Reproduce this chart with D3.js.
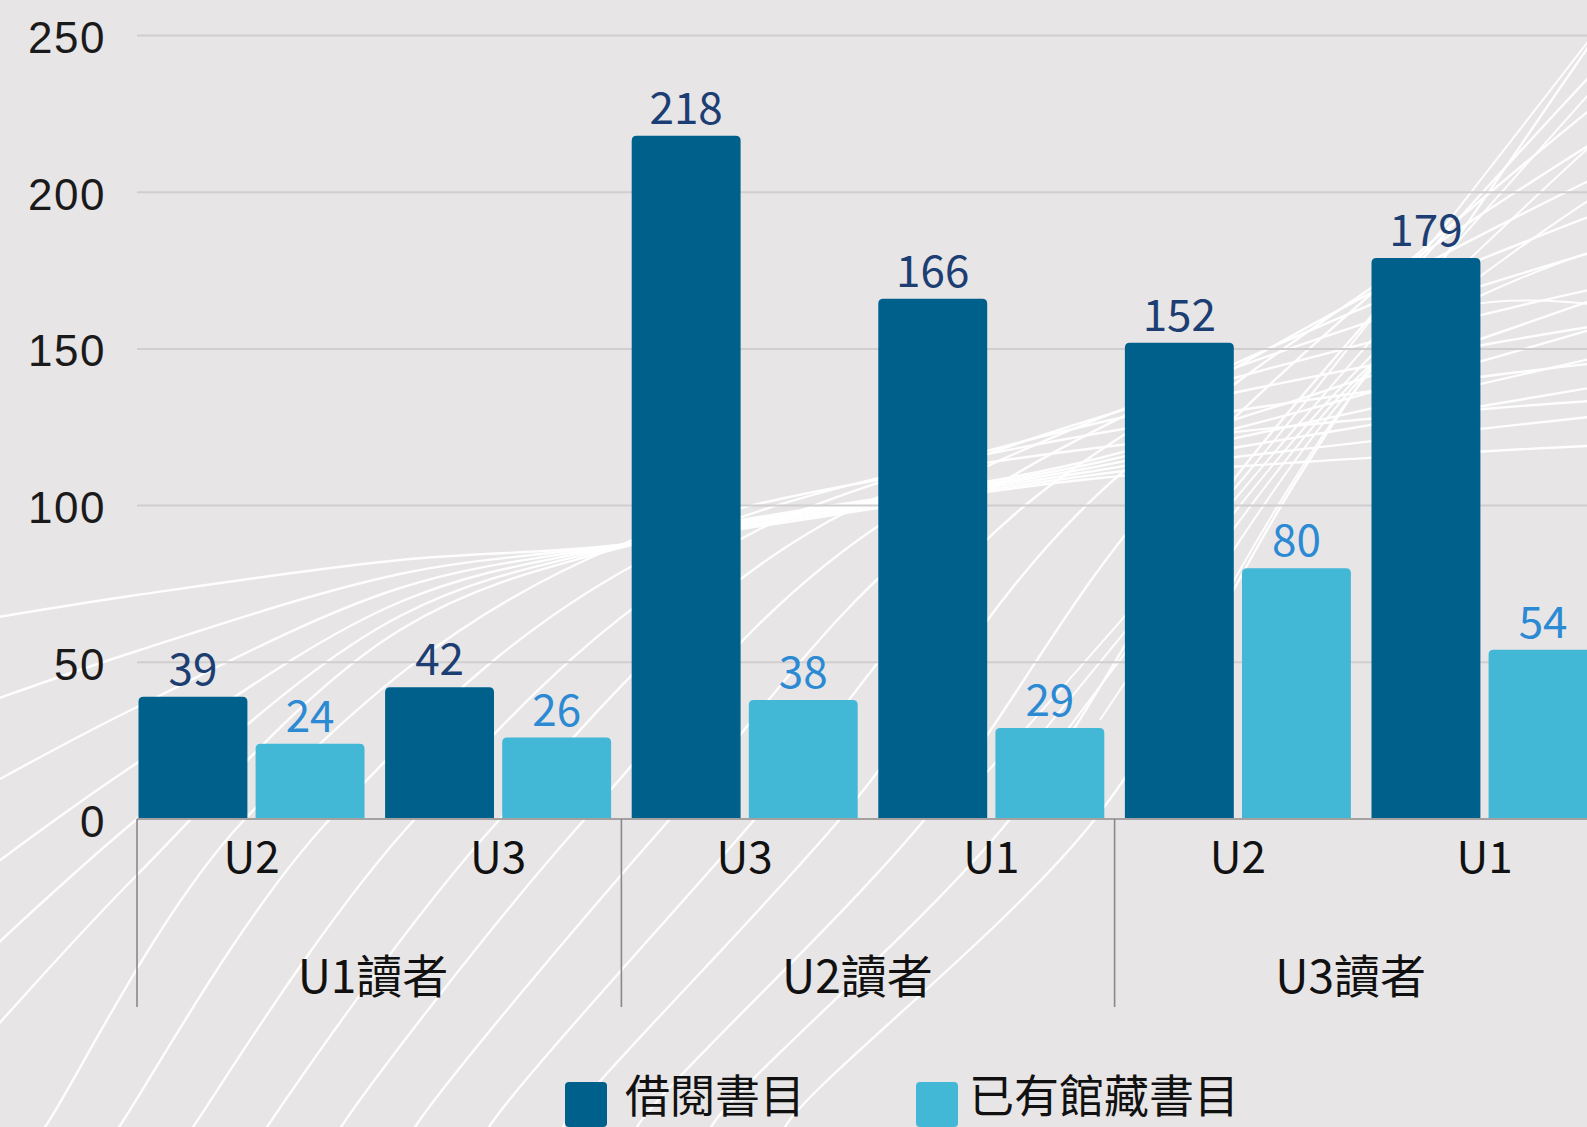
<!DOCTYPE html>
<html>
<head>
<meta charset="utf-8">
<script src="https://cdn.jsdelivr.net/npm/d3@7"></script>
<style>
  html, body { margin: 0; padding: 0; background: #e7e5e6; }
  svg { display: block; }
</style>
</head>
<body>
<div id="chart"></div>
<script>
// ---- data ----
const groups = ["U1讀者", "U2讀者", "U3讀者"];
const subcategories = ["U2", "U3", "U3", "U1", "U2", "U1"];
const groupOfSub = [0, 0, 1, 1, 2, 2];
const seriesNames = ["借閱書目", "已有館藏書目"];
const borrowed = [39, 42, 218, 166, 152, 179];
const held = [24, 26, 38, 29, 80, 54];
const yTicks = [0, 50, 100, 150, 200, 250];

const W = 1587, H = 1127;
const colors = ["#00608c", "#42b8d6"];
const labelColors = ["#1c3e72", "#2b8ad3"];

const svg = d3.select("#chart").append("svg")
  .attr("width", W).attr("height", H)
  .style("background", "#e7e5e6");

// ---- decorative background curves (string-art pattern) ----
const deco = svg.append("g").attr("fill", "none").attr("stroke", "#ffffff")
  .attr("stroke-opacity", 0.95).attr("stroke-width", 2.4);
const smooth = d3.line().curve(d3.curveCatmullRom.alpha(0.5));
// curves entering from the left edge, pinching near the 3rd bar
d3.range(6).forEach(k => {
  const pts = [
    [-20, 620 + k * 85],
    [137, 595 + k * 56],
    [400, 560 + k * 14],
    [620 + k * 6, 545 - k],
    [1100, 478 - k * 4],
    [W + 20, 445 - k * 30]
  ];
  deco.append("path").attr("d", smooth(pts));
});
// arcs rising from the bottom edge
d3.range(11).forEach(k => {
  const pts = [
    [30 + k * 75, H + 20],
    [45 + k * 74, H],
    [245 + k * 85, 819],
    [620 + k * 68, 545 - k * 7],
    [W + 20, 400 - k * 38]
  ];
  deco.append("path").attr("d", smooth(pts));
});
// steep crossing strings near the top-right
d3.range(6).forEach(k => {
  const pts = [
    [980 + k * 40, 780 - k * 20],
    [1250 + k * 35, 470 - k * 30],
    [W + 10, 30 + k * 55]
  ];
  deco.append("path").attr("d", smooth(pts)).attr("stroke-width", 2);
});

// ---- scales ----
const plotLeft = 137;
const y = d3.scaleLinear().domain([0, 250]).range([819, 35.5]);
const x = d3.scaleBand().domain(d3.range(subcategories.length))
  .range([138.5, 1597.5]).paddingInner(0.0835).paddingOuter(0);
const xs = d3.scaleBand().domain([0, 1]).range([0, x.bandwidth()]).paddingInner(0.07);

// ---- gridlines ----
svg.append("g").selectAll("line").data(yTicks.filter(t => t > 0)).join("line")
  .attr("x1", plotLeft).attr("x2", W)
  .attr("y1", d => y(d)).attr("y2", d => y(d))
  .attr("stroke", "#d0cecf").attr("stroke-width", 2);

// y labels
svg.append("g").selectAll("text").data(yTicks).join("text")
  .attr("x", 106).attr("y", d => y(d) + 2)
  .attr("text-anchor", "end").attr("dominant-baseline", "central")
  .attr("font-family", "'Liberation Sans', Arial, sans-serif").attr("font-size", 44)
  .attr("letter-spacing", 1.5)
  .attr("fill", "#1a1a1a").text(d => d);

// ---- bars ----
function barPath(x0, w, yTop, yBase, r) {
  r = Math.min(r, (yBase - yTop) / 2, w / 2);
  const p = d3.path();
  p.moveTo(x0, yBase);
  p.lineTo(x0, yTop + r);
  p.quadraticCurveTo(x0, yTop, x0 + r, yTop);
  p.lineTo(x0 + w - r, yTop);
  p.quadraticCurveTo(x0 + w, yTop, x0 + w, yTop + r);
  p.lineTo(x0 + w, yBase);
  p.closePath();
  return p.toString();
}
const seriesData = [borrowed, held];
seriesData.forEach((vals, si) => {
  const g = svg.append("g");
  g.selectAll("path").data(vals).join("path")
    .attr("d", (v, i) => barPath(x(i) + xs(si), xs.bandwidth(), y(v), y(0), 5))
    .attr("fill", colors[si]);
  g.selectAll("text").data(vals).join("text")
    .attr("x", (v, i) => x(i) + xs(si) + xs.bandwidth() / 2)
    .attr("y", v => y(v) - 12)
    .attr("text-anchor", "middle")
    .attr("font-family", "'Noto Sans CJK TC', 'Noto Sans', sans-serif")
    .attr("font-size", 44)
    .attr("fill", labelColors[si]).text(v => v);
});

// ---- x axis ----
svg.append("line").attr("x1", plotLeft).attr("x2", W)
  .attr("y1", y(0)).attr("y2", y(0))
  .attr("stroke", "#a3a1a2").attr("stroke-width", 2);

svg.append("g").selectAll("text").data(subcategories).join("text")
  .attr("x", (d, i) => x(i) + x.bandwidth() / 2)
  .attr("y", 873)
  .attr("text-anchor", "middle")
  .attr("font-family", "'Noto Sans CJK TC', sans-serif").attr("font-size", 44)
  .attr("fill", "#111").text(d => d);

// group separators
const sepX = groups.map((g, gi) => {
  const first = groupOfSub.indexOf(gi);
  if (first === 0) return plotLeft;
  return (x(first - 1) + x.bandwidth() + x(first)) / 2;
});
svg.append("g").selectAll("line").data(sepX).join("line")
  .attr("x1", d => d).attr("x2", d => d)
  .attr("y1", y(0)).attr("y2", 1007)
  .attr("stroke", "#8a8889").attr("stroke-width", 1.6);

svg.append("g").selectAll("text").data(groups).join("text")
  .attr("x", (d, i) => sepX[i] + 236)
  .attr("y", 993)
  .attr("text-anchor", "middle")
  .attr("font-family", "'Noto Sans CJK TC', sans-serif").attr("font-size", 46)
  .attr("fill", "#111").text(d => d);

// ---- legend ----
const legendX = [565, 916];
const leg = svg.append("g");
seriesNames.forEach((name, i) => {
  leg.append("rect").attr("x", legendX[i]).attr("y", 1082)
    .attr("width", 42).attr("height", 45).attr("rx", 4)
    .attr("fill", colors[i]);
  leg.append("text").attr("x", legendX[i] + (i === 0 ? 60 : 53)).attr("y", 1113)
    .attr("font-family", "'Noto Sans CJK TC', sans-serif").attr("font-size", 45)
    .attr("fill", "#111").text(name);
});
</script>
</body>
</html>
